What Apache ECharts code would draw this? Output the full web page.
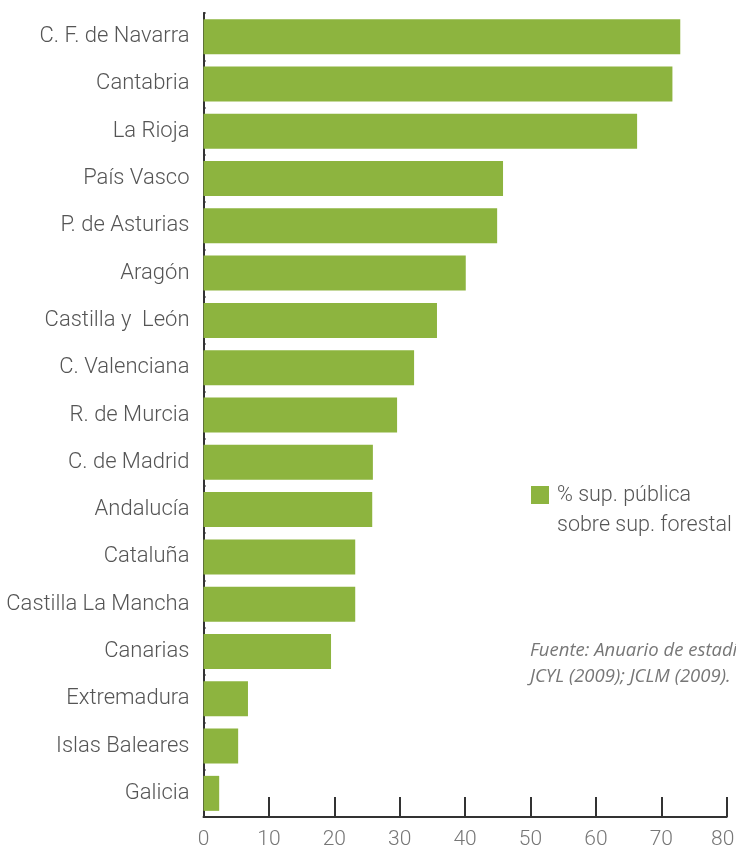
<!DOCTYPE html>
<html>
<head>
<meta charset="utf-8">
<script src="https://cdn.jsdelivr.net/npm/echarts@6/dist/echarts.min.js"></script>
<style>html,body{margin:0;padding:0;background:#fff}#c{width:736px;height:848px}</style>
</head>
<body>
<div id="c"></div>
<script>
const categories = ["C. F. de Navarra","Cantabria","La Rioja","País Vasco","P. de Asturias","Aragón","Castilla y  León","C. Valenciana","R. de Murcia","C. de Madrid","Andalucía","Cataluña","Castilla La Mancha","Canarias","Extremadura","Islas Baleares","Galicia"];
const values = [72.9, 71.7, 66.3, 45.8, 44.9, 40.1, 35.7, 32.2, 29.6, 25.9, 25.8, 23.2, 23.2, 19.5, 6.8, 5.3, 2.4];
const seriesName = "% sup. pública\nsobre sup. forestal";
const sourceLines = ["Fuente: Anuario de estadística forestal", "JCYL (2009); JCLM (2009)."];
const xMax = 80;

const chart = echarts.init(document.getElementById('c'), null, {renderer: 'canvas'});
const FONT = "Roboto";
const GREEN = "#8db43f";
chart.setOption({
  animation: false,
  backgroundColor: '#fff',
  grid: {left: 203.5, right: 9.3, top: 13, bottom: 31, containLabel: false, outerBoundsMode: 'none'},
  xAxis: {
    type: 'value', min: 0, max: xMax, interval: 10,
    axisLine: {show: true, lineStyle: {color: '#333', width: 2}},
    axisTick: {show: true, inside: true, length: 20, lineStyle: {color: '#333', width: 2}},
    splitLine: {show: false},
    axisLabel: {
      color: '#777', fontSize: 21, fontFamily: FONT, fontWeight: 300, margin: 12,
      formatter: function (v) { return v === xMax ? '{e|' + v + '}' : String(v); },
      rich: {e: {color: '#777', fontSize: 21, fontFamily: FONT, fontWeight: 300, padding: [0, 8, 0, 0]}}
    }
  },
  yAxis: {
    type: 'category', data: categories, inverse: true,
    axisLine: {show: true, lineStyle: {color: '#333', width: 2}},
    axisTick: {show: true, inside: true, length: 2, lineStyle: {color: '#333', width: 2}},
    axisLabel: {color: '#555', fontSize: 22, fontFamily: FONT, fontWeight: 300, margin: 14}
  },
  series: [{
    name: seriesName, type: 'bar', data: values, barWidth: 35,
    itemStyle: {color: GREEN}
  }],
  graphic: [
    {type: 'rect', left: 531, top: 486, shape: {width: 18, height: 18}, style: {fill: GREEN}},
    {type: 'text', left: 557, top: 481, style: {text: seriesName, fill: '#555', font: '300 21.5px Roboto', lineHeight: 30}},
    {type: 'text', left: 530, top: 638, style: {text: sourceLines.join('\n'), fill: '#777', font: 'italic 18.5px "Open Sans"', lineHeight: 26}}
  ]
});
</script>
</body>
</html>
